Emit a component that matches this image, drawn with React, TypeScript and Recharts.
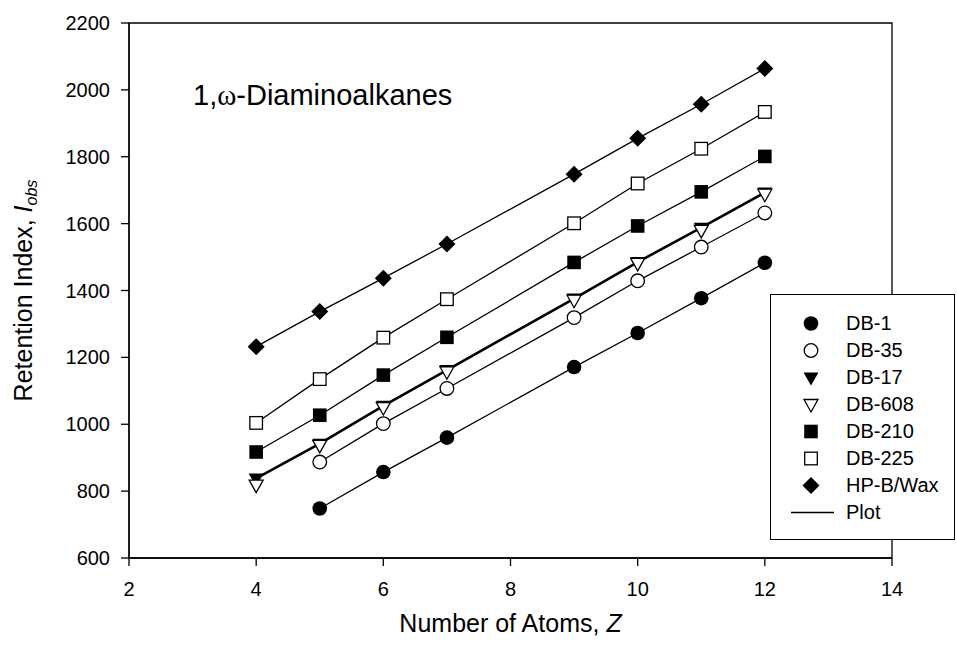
import React from "react"
import { LineChart, Line, XAxis, YAxis, Legend, ReferenceArea } from "recharts"

// carbon number Z and retention indices
const Z = [4, 5, 6, 7, 9, 10, 11, 12]
const DB_1 = [null, 748, 857, 960, 1171, 1273, 1377, 1483]
const DB_35 = [null, 887, 1002, 1107, 1319, 1429, 1530, 1632]
const DB_17 = [838, 942, 1055, 1162, 1376, 1485, 1588, 1693]
const DB_608 = [818, 937, 1050, 1157, 1371, 1481, 1580, 1688]
const DB_210 = [917, 1027, 1147, 1260, 1484, 1593, 1695, 1801]
const DB_225 = [1004, 1135, 1259, 1374, 1601, 1720, 1824, 1934]
const HP_WAX = [1232, 1337, 1437, 1539, 1748, 1855, 1957, 2064]

const X_TICKS = [2, 4, 6, 8, 10, 12, 14]
const Y_TICKS = [600, 800, 1000, 1200, 1400, 1600, 1800, 2000, 2200]

const FONT = '"Liberation Sans", Arial, sans-serif'

const series = [
  { key: "db1", name: "DB-1", values: DB_1, shape: "circleFilled", line: 1.3 },
  { key: "db35", name: "DB-35", values: DB_35, shape: "circleOpen", line: 1.3 },
  { key: "db17", name: "DB-17", values: DB_17, shape: "triFilled", line: 2.6 },
  { key: "db608", name: "DB-608", values: DB_608, shape: "triOpen", line: 0 },
  { key: "db210", name: "DB-210", values: DB_210, shape: "squareFilled", line: 1.3 },
  { key: "db225", name: "DB-225", values: DB_225, shape: "squareOpen", line: 1.3 },
  { key: "wax", name: "HP-B/Wax", values: HP_WAX, shape: "diamond", line: 1.3 },
]

const data = Z.map((z, i) => {
  const row: any = { z }
  series.forEach((s) => {
    row[s.key] = s.values[i]
  })
  return row
})

const Marker = ({ shape, cx, cy }: { shape: string; cx: number; cy: number }) => {
  switch (shape) {
    case "circleFilled":
      return <circle cx={cx} cy={cy} r={7.3} fill="#000" />
    case "circleOpen":
      return <circle cx={cx} cy={cy} r={6.8} fill="#fff" stroke="#000" strokeWidth={1.3} />
    case "triFilled":
      return <polygon points={`${cx - 7.5},${cy - 5} ${cx + 7.5},${cy - 5} ${cx},${cy + 8}`} fill="#000" />
    case "triOpen":
      return (
        <polygon
          points={`${cx - 7},${cy - 5} ${cx + 7},${cy - 5} ${cx},${cy + 7.5}`}
          fill="#fff"
          stroke="#000"
          strokeWidth={1.3}
        />
      )
    case "squareFilled":
      return <rect x={cx - 6.8} y={cy - 6.8} width={13.6} height={13.6} fill="#000" />
    case "squareOpen":
      return <rect x={cx - 6.3} y={cy - 6.3} width={12.6} height={12.6} fill="#fff" stroke="#000" strokeWidth={1.3} />
    case "diamond":
      return <polygon points={`${cx},${cy - 8.5} ${cx + 8.5},${cy} ${cx},${cy + 8.5} ${cx - 8.5},${cy}`} fill="#000" />
    default:
      return null
  }
}

const makeDot = (shape: string) => (props: any) => {
  const { cx, cy, index } = props
  if (cx == null || cy == null || props.value == null) return <g key={`n-${index}`} />
  return (
    <g key={`${shape}-${index}`}>
      <Marker shape={shape} cx={cx} cy={cy} />
    </g>
  )
}

const LegendBox = () => (
  <div
    style={{
      width: 185,
      height: 246,
      boxSizing: "border-box",
      border: "1.5px solid #000",
      background: "#fff",
      paddingTop: 15,
      fontFamily: FONT,
      fontSize: 20,
      color: "#000",
    }}
  >
    {series.map((s) => (
      <div key={s.key} style={{ display: "flex", alignItems: "center", height: 27 }}>
        <svg width={70} height={27} style={{ marginLeft: 5 }}>
          <Marker shape={s.shape} cx={35} cy={13.5} />
        </svg>
        <span>{s.name}</span>
      </div>
    ))}
    <div style={{ display: "flex", alignItems: "center", height: 27 }}>
      <svg width={70} height={27} style={{ marginLeft: 5 }}>
        <line x1={15} y1={13.5} x2={58} y2={13.5} stroke="#000" strokeWidth={1.3} />
      </svg>
      <span>Plot</span>
    </div>
  </div>
)

const XLabel = (props: any) => {
  const { viewBox } = props
  const cx = viewBox.x + viewBox.width / 2
  return (
    <text x={cx} y={viewBox.y + 74} textAnchor="middle" fontFamily={FONT} fontSize={25} fill="#000">
      Number of Atoms, <tspan fontStyle="italic">Z</tspan>
    </text>
  )
}

const YLabel = (props: any) => {
  const { viewBox } = props
  const cy = viewBox.y + viewBox.height / 2
  const x = 32
  return (
    <text
      x={x}
      y={cy}
      transform={`rotate(-90, ${x}, ${cy})`}
      textAnchor="middle"
      fontFamily={FONT}
      fontSize={25}
      fill="#000"
    >
      Retention Index, <tspan fontStyle="italic">I</tspan>
      <tspan fontStyle="italic" fontSize={16} dy={5}>
        obs
      </tspan>
    </text>
  )
}

const tickStyle = { fontFamily: FONT, fontSize: 20, fill: "#000" }

export default function App() {
  return (
    <div style={{ position: "absolute", left: 0, top: 0, width: 957, height: 646, background: "#fff" }}>
      <LineChart width={957} height={646} data={data} margin={{ top: 23, right: 65, bottom: 0, left: 0 }}>
        <ReferenceArea x1={2} x2={14} y1={600} y2={2200} fill="none" stroke="#000" strokeWidth={1.3} />
        <XAxis
          dataKey="z"
          type="number"
          domain={[2, 14]}
          ticks={X_TICKS}
          height={88}
          tick={tickStyle}
          tickSize={8}
          tickMargin={16}
          stroke="#000"
          strokeWidth={1.3}
          label={<XLabel />}
        />
        <YAxis
          type="number"
          domain={[600, 2200]}
          ticks={Y_TICKS}
          width={129}
          tick={tickStyle}
          tickSize={8}
          tickMargin={11}
          stroke="#000"
          strokeWidth={1.3}
          label={<YLabel />}
        />
        {series.map((s) => (
          <Line
            key={s.key}
            dataKey={s.key}
            name={s.name}
            type="linear"
            stroke={s.line > 0 ? "#000" : "none"}
            strokeWidth={s.line}
            dot={makeDot(s.shape)}
            activeDot={false}
            isAnimationActive={false}
          />
        ))}
        <Legend
          layout="horizontal"
          verticalAlign="middle"
          align="center"
          content={<LegendBox />}
          wrapperStyle={{ position: "absolute", left: 770, top: 294, width: 185, height: 246 }}
        />
      </LineChart>
      <svg width={957} height={646} style={{ position: "absolute", left: 0, top: 0, pointerEvents: "none" }}>
        <text x={193} y={105} fontFamily={FONT} fontSize={29} fill="#000">
          1,<tspan fontFamily='"Liberation Serif", serif'>ω</tspan>-Diaminoalkanes
        </text>
      </svg>
    </div>
  )
}
